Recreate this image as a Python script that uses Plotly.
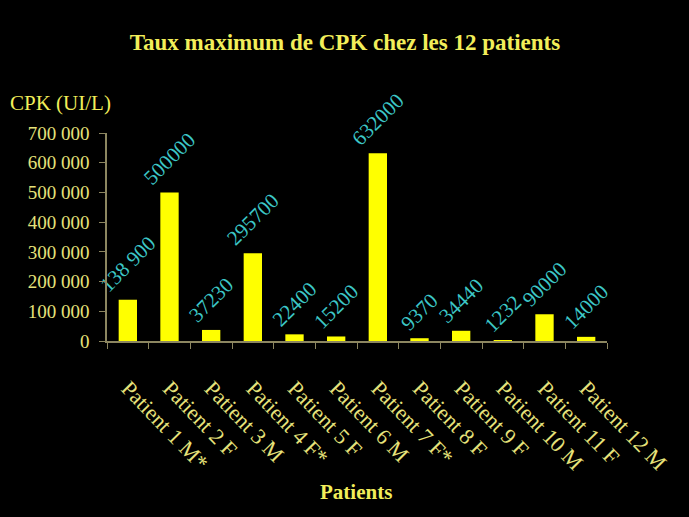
import plotly.graph_objects as go

categories = ["Patient 1 M*", "Patient 2 F", "Patient 3 M", "Patient 4 F*", "Patient 5 F",
              "Patient 6 M", "Patient 7 F*", "Patient 8 F", "Patient 9 F", "Patient 10 M",
              "Patient 11 F", "Patient 12 M"]
cpk_values = [138900, 500000, 37230, 295700, 22400, 15200, 632000, 9370, 34440, 1232, 90000, 14000]
value_labels = ["138 900", "500000", "37230", "295700", "22400", "15200", "632000", "9370",
                "34440", "1232", "90000", "14000"]
y_ticks = [0, 100000, 200000, 300000, 400000, 500000, 600000, 700000]
y_ticktext = ["0", "100 000", "200 000", "300 000", "400 000", "500 000", "600 000", "700 000"]

serif = "Liberation Serif, Times New Roman, serif"
tick_col = "#e6e27a"
axis_col = "#8c8660"

fig = go.Figure(go.Bar(
    x=categories, y=cpk_values,
    marker=dict(color="#ffff00", line=dict(width=0)),
    text=value_labels, textposition="outside", textangle=-45,
    textfont=dict(family=serif, size=21, color="#3cc6c6"),
    constraintext="none",
    cliponaxis=False,
))

fig.update_layout(
    width=689, height=517,
    paper_bgcolor="black", plot_bgcolor="black",
    margin=dict(l=107, r=82, t=133, b=176),
    bargap=0.56,
    showlegend=False,
    title=dict(text="<b>Taux maximum de CPK chez les 12 patients</b>",
               x=(345 - 107) / 500, xref="paper", xanchor="center", y=1 - 42 / 517, yanchor="middle",
               font=dict(family=serif, size=23, color="#f2ee5a")),
    annotations=[
        dict(text="CPK (UI/L)", xref="paper", yref="paper", x=-99 / 500, y=1 + 30 / 208,
             xanchor="left", yanchor="middle", showarrow=False,
             font=dict(family=serif, size=21, color="#f2ee5a")),
        dict(text="<b>Patients</b>", xref="paper", yref="paper", x=(356 - 107) / 500, y=-(492 - 341) / 208,
             xanchor="center", yanchor="middle", showarrow=False,
             font=dict(family=serif, size=21, color="#f2ee5a")),
    ],
)

fig.update_xaxes(
    type="category", tickangle=46, showgrid=False, zeroline=False,
    showline=True, linecolor=axis_col, linewidth=1.5,
    ticks="outside", ticklen=6, tickcolor=axis_col, tickson="boundaries",
    tickfont=dict(family=serif, size=22, color=tick_col),
    ticklabelstandoff=24,
)
fig.update_yaxes(
    range=[0, 700000], tickvals=y_ticks, ticktext=y_ticktext,
    showgrid=False, zeroline=False,
    showline=True, linecolor=axis_col, linewidth=1.5,
    ticks="outside", ticklen=6, tickcolor=axis_col,
    tickfont=dict(family=serif, size=19, color=tick_col),
    ticklabelstandoff=6,
)

fig.write_html("out.html", config={"displayModeBar": False},
               post_script="document.body.style.margin='0px';")
